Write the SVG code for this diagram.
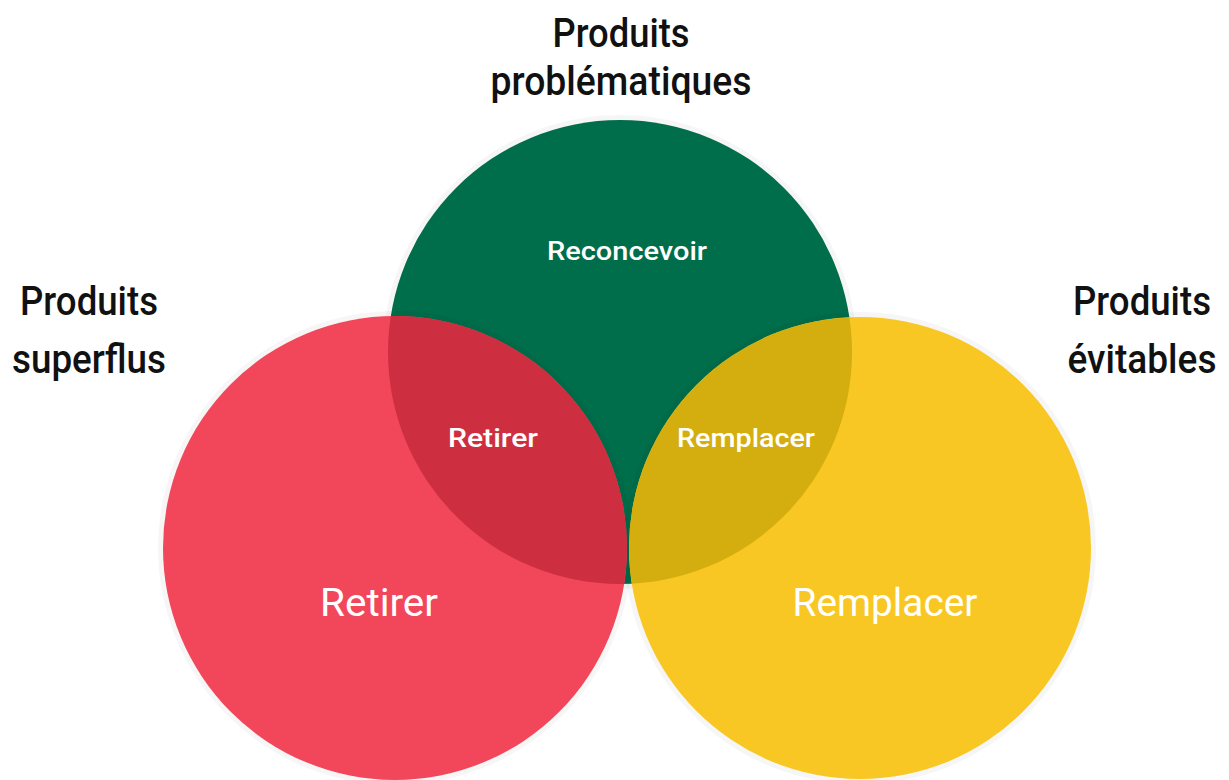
<svg xmlns="http://www.w3.org/2000/svg" width="1229" height="780" viewBox="0 0 1229 780">
  <style>
    .halo { fill: none; stroke: #000; stroke-opacity: 0.035; stroke-width: 6; }
    .inner { font-family: Roboto, "Liberation Sans", sans-serif; font-weight: 500; fill: #ffffff; text-anchor: middle; }
    .small { font-size: 26px; }
    .big { font-size: 39px; font-weight: 400; }
    .head { font-family: Roboto, "Liberation Sans", sans-serif; font-size: 40px; font-weight: 500; fill: #111111; text-anchor: middle; }
  </style>
  <defs>
    <clipPath id="clipGreen">
      <circle cx="620" cy="352" r="232"/>
    </clipPath>
  </defs>
  <rect width="1229" height="780" fill="#ffffff"/>

  <!-- Problematic products (top circle) -->
  <g id="node-reconcevoir">
    <circle class="halo" cx="620" cy="352" r="234"/>
    <circle cx="620" cy="352" r="232" fill="#006d4b"/>
    <text class="inner small" x="627" y="260" textLength="160" lengthAdjust="spacingAndGlyphs">Reconcevoir</text>
  </g>

  <!-- Superfluous products (left circle) -->
  <g id="node-retirer">
    <circle class="halo" cx="395" cy="548" r="234"/>
    <circle cx="395" cy="548" r="232" fill="#f2465a"/>
    <text class="inner big" x="379" y="616" textLength="118" lengthAdjust="spacingAndGlyphs">Retirer</text>
  </g>

  <!-- Avoidable products (right circle) -->
  <g id="node-remplacer">
    <circle class="halo" cx="860" cy="548" r="233"/>
    <circle cx="860" cy="548" r="231" fill="#f8c724"/>
    <text class="inner big" x="885" y="616" textLength="185" lengthAdjust="spacingAndGlyphs">Remplacer</text>
  </g>

  <!-- Overlap lenses -->
  <g id="overlaps" clip-path="url(#clipGreen)">
    <circle cx="395" cy="548" r="232" fill="#cd2f40"/>
    <circle cx="860" cy="548" r="231" fill="#d4ae0e"/>
  </g>
  <g id="node-overlap-labels">
    <text class="inner small" x="493" y="447" textLength="90" lengthAdjust="spacingAndGlyphs">Retirer</text>
    <text class="inner small" x="746" y="447" textLength="138" lengthAdjust="spacingAndGlyphs">Remplacer</text>
  </g>

  <!-- Category headings -->
  <g id="label-top">
    <text class="head" x="621" y="47" textLength="137" lengthAdjust="spacingAndGlyphs">Produits</text>
    <text class="head" x="621" y="95" textLength="261" lengthAdjust="spacingAndGlyphs">problématiques</text>
  </g>
  <g id="label-left">
    <text class="head" x="89" y="315" textLength="138" lengthAdjust="spacingAndGlyphs">Produits</text>
    <text class="head" x="89" y="373" textLength="154" lengthAdjust="spacingAndGlyphs">superflus</text>
  </g>
  <g id="label-right">
    <text class="head" x="1142" y="315" textLength="138" lengthAdjust="spacingAndGlyphs">Produits</text>
    <text class="head" x="1142" y="373" textLength="149" lengthAdjust="spacingAndGlyphs">évitables</text>
  </g>

  <g id="connectors"/>
</svg>
